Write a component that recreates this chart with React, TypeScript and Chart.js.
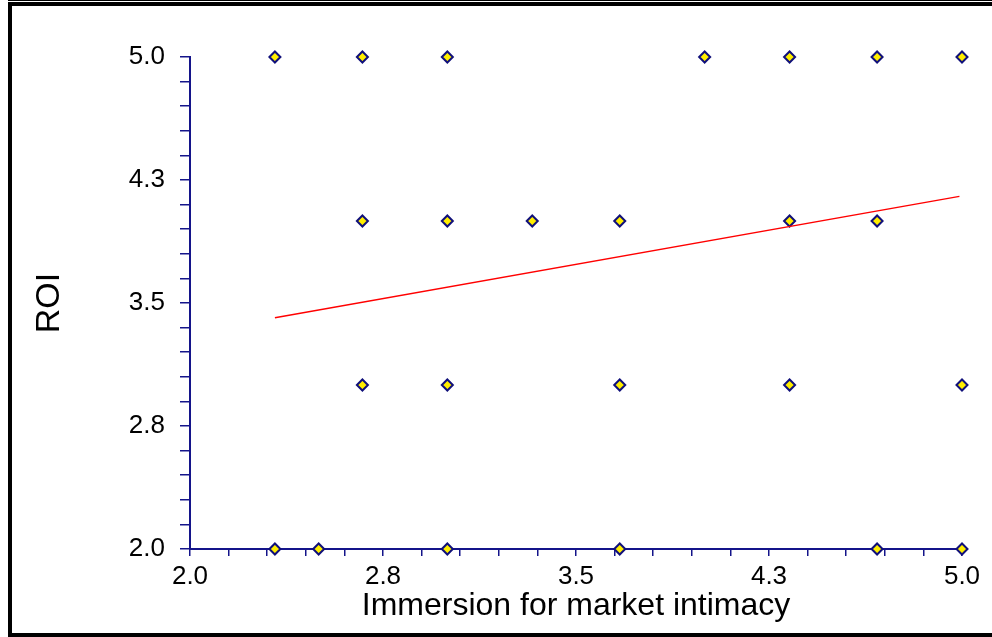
import React, { useEffect, useRef } from "react";
import { Chart, registerables } from "chart.js";

Chart.register(...registerables);

// Observed data points (Immersion for market intimacy, ROI)
const pointsX = [
  2.33, 2.67, 3.0, 4.0, 4.33, 4.67, 5.0,
  2.67, 3.0, 3.33, 3.67, 4.33, 4.67,
  2.67, 3.0, 3.67, 4.33, 5.0,
  2.33, 2.5, 3.0, 3.67, 4.67, 5.0,
];
const pointsY = [
  5, 5, 5, 5, 5, 5, 5,
  4, 4, 4, 4, 4, 4,
  3, 3, 3, 3, 3,
  2, 2, 2, 2, 2, 2,
];

// Regression line end points
const regX = [2.33, 4.99];
const regY = [3.41, 4.15];

const xTickLabels = ["2.0", "2.8", "3.5", "4.3", "5.0"];
const yTickLabels = ["2.0", "2.8", "3.5", "4.3", "5.0"];

const AXIS = "#14148a";
const FONT = '"Liberation Sans", Arial, sans-serif';

const framePlugin = {
  id: "frame",
  beforeDraw(chart: any) {
    const ctx = chart.ctx;
    ctx.save();
    ctx.fillStyle = "#ffffff";
    ctx.fillRect(0, 0, chart.width, chart.height);
    ctx.restore();
  },
  afterDraw(chart: any) {
    const ctx = chart.ctx;
    ctx.save();
    ctx.fillStyle = "#000000";
    ctx.fillRect(8, 0, 984, 1);
    ctx.fillRect(8, 2, 984, 4);
    ctx.fillRect(8, 2, 4, 635);
    ctx.fillRect(8, 633, 984, 4);
    ctx.restore();
  },
};

export default function App() {
  const ref = useRef<HTMLCanvasElement | null>(null);

  useEffect(() => {
    if (!ref.current) return;
    const chart = new Chart(ref.current, {
      type: "scatter",
      data: {
        datasets: [
          {
            type: "line",
            data: regX.map((x, i) => ({ x, y: regY[i] })),
            borderColor: "#ff0000",
            borderWidth: 1.3,
            pointRadius: 0,
            fill: false,
            clip: false as any,
          } as any,
          {
            data: pointsX.map((x, i) => ({ x, y: pointsY[i] })),
            pointStyle: "rectRot",
            pointRadius: 5.5,
            pointHoverRadius: 5.5,
            borderWidth: 2,
            borderColor: "#10107a",
            backgroundColor: "#ffee00",
            clip: false as any,
          } as any,
        ],
      },
      options: {
        animation: false,
        responsive: false,
        events: [],
        layout: { padding: { top: 57, right: 30, left: 0, bottom: 0 } },
        plugins: {
          legend: { display: false },
          tooltip: { enabled: false },
        },
        scales: {
          x: {
            type: "linear",
            min: 2,
            max: 5,
            afterFit: (s: any) => {
              s.height = 88;
            },
            border: { display: true, color: AXIS, width: 2 },
            grid: {
              drawOnChartArea: false,
              drawTicks: true,
              tickLength: 7,
              color: AXIS,
              lineWidth: 1.5,
            },
            ticks: {
              stepSize: 0.15,
              autoSkip: false,
              maxRotation: 0,
              padding: 5,
              color: "#000000",
              font: { family: FONT, size: 26 },
              callback: (_v: any, i: number) =>
                i % 5 === 0 ? xTickLabels[i / 5] : "",
            },
            title: {
              display: true,
              text: "Immersion for market intimacy",
              color: "#000000",
              font: { family: FONT, size: 32 },
              padding: { top: 0, bottom: 12 },
            },
          },
          y: {
            type: "linear",
            min: 2,
            max: 5,
            afterFit: (s: any) => {
              s.width = 190;
            },
            border: { display: true, color: AXIS, width: 2 },
            grid: {
              drawOnChartArea: false,
              drawTicks: true,
              tickLength: 10,
              color: AXIS,
              lineWidth: 1.5,
            },
            ticks: {
              stepSize: 0.15,
              autoSkip: false,
              padding: 15,
              color: "#000000",
              font: { family: FONT, size: 26 },
              callback: (_v: any, i: number) =>
                i % 5 === 0 ? yTickLabels[i / 5] : "",
            },
            title: {
              display: true,
              text: "ROI",
              color: "#000000",
              font: { family: FONT, size: 34 },
              padding: { top: 29, bottom: 0 },
            },
          },
        },
      },
      plugins: [framePlugin],
    } as any);
    return () => chart.destroy();
  }, []);

  return (
    <div style={{ position: "fixed", left: 0, top: 0, width: 992, height: 637 }}>
      <canvas ref={ref} width={992} height={637} style={{ display: "block" }} />
    </div>
  );
}
